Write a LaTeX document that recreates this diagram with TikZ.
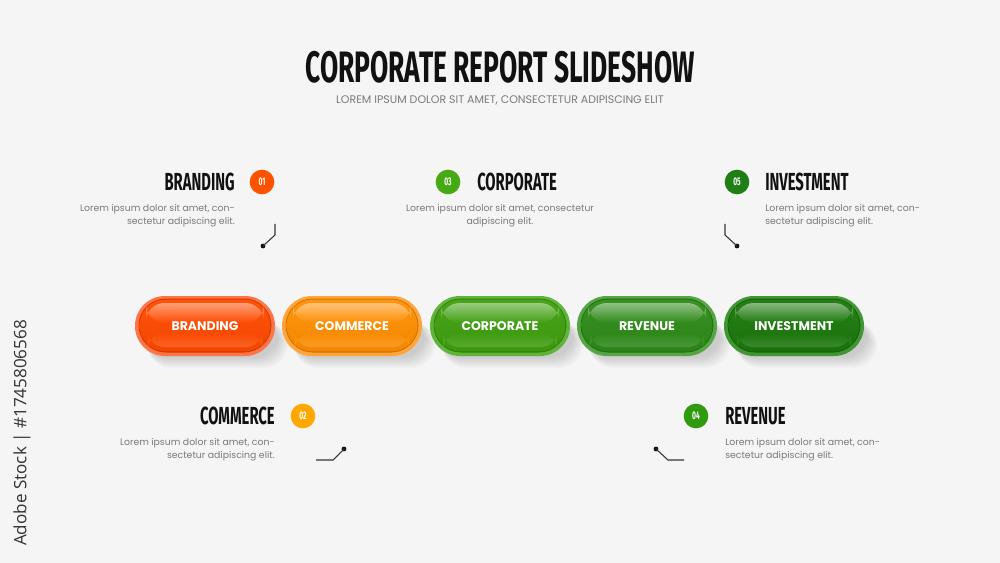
\documentclass[tikz,border=0pt]{standalone}
\usepackage{fontspec}
\setmainfont{Poppins}
\newfontfamily\bebas[FakeStretch=0.6]{Fira Sans}
\newfontfamily\adobefont{Open Sans}
\usetikzlibrary{calc}
\definecolor{bg}{HTML}{F5F5F5}
\definecolor{txtgray}{HTML}{7A7A7A}
\definecolor{ink}{HTML}{111111}
\definecolor{cA}{HTML}{FF4A00}
\definecolor{rA}{HTML}{FF7446}
\definecolor{cB}{HTML}{FF8E00}
\definecolor{rB}{HTML}{FFA43A}
\definecolor{cC}{HTML}{3F9F0F}
\definecolor{rC}{HTML}{5FB43A}
\definecolor{cD}{HTML}{2E8A18}
\definecolor{rD}{HTML}{55A545}
\definecolor{cE}{HTML}{1B780B}
\definecolor{rE}{HTML}{3F9632}
\definecolor{n1}{HTML}{FF5200}
\definecolor{n2}{HTML}{FFA800}
\definecolor{n3}{HTML}{45AA12}
\definecolor{n4}{HTML}{2F9A10}
\definecolor{n5}{HTML}{1F7E14}
\tikzset{
  pilltext/.style={text=white,font=\bfseries\fontsize{9.4}{10}\selectfont,inner sep=0pt},
  heading/.style={text=ink,font=\bebas\bfseries\fontsize{18.5}{20}\selectfont,inner sep=0pt},
  body/.style={text=txtgray,font=\fontsize{7}{9.8}\selectfont,inner sep=0pt},
  numdot/.style={circle,minimum size=18.5pt,inner sep=0pt,text=white,font=\bebas\bfseries\fontsize{8.3}{9}\selectfont},
  conn/.style={draw=ink!85,line width=0.8pt},
  enddot/.style={circle,fill=ink,minimum size=3.6pt,inner sep=0pt},
}
\newcommand\mypill[5]{%
\begin{scope}[shift={(#1,326)}]
  \foreach \k in {1,...,7}{
    \fill[black,opacity=0.022,rounded corners=18pt] (-62+\k*0.6,-8+\k*0.5) rectangle (72+\k*1.6,30+\k*1.7);
  }
  \fill[#4,rounded corners=22.4pt] (-70,-30) rectangle (70,30);
  \fill[#3!80!black,rounded corners=20.5pt] (-66.5,-27.5) rectangle (66.5,26.5);
  \shade[top color=#3!95!white,bottom color=#3!95!black,rounded corners=19.5pt] (-65.5,-26.5) rectangle (65.5,25.3);
  \shade[top color=#3!45!white,bottom color=#3,opacity=0.85,rounded corners=14pt] (-59,-23) rectangle (59,-3);
  \shade[top color=#3,bottom color=#3!72!white,opacity=0.5,rounded corners=12pt] (-57,7) rectangle (57,21);
  \node[pilltext] (#2) at (0,0) {#5};
\end{scope}}
\begin{document}
\begin{tikzpicture}[x=0.75pt,y=-0.75pt]
\useasboundingbox (0,0) rectangle (1000,563);
\fill[bg] (0,0) rectangle (1000,563);

% title
\node[text=ink,font=\bebas\bfseries\fontsize{33}{34}\selectfont,inner sep=0pt] (title) at (500,67) {CORPORATE REPORT SLIDESHOW};
\node[text=txtgray,font=\fontsize{8.25}{9}\selectfont,inner sep=0pt] (sub) at (500,100) {LOREM IPSUM DOLOR SIT AMET, CONSECTETUR ADIPISCING ELIT};

% watermark side text
\node[rotate=90,text=black!80,font=\adobefont\fontsize{12.8}{14}\selectfont,inner sep=0pt] (wm) at (22,433) {Adobe Stock | \#1745806568};

% pills
\mypill{205}{p1}{cA}{rA}{BRANDING}
\mypill{352}{p2}{cB}{rB}{COMMERCE}
\mypill{500}{p3}{cC}{rC}{CORPORATE}
\mypill{647}{p4}{cD}{rD}{REVENUE}
\mypill{794}{p5}{cE}{rE}{INVESTMENT}

% 01 branding
\node[heading,anchor=east] (h1) at (235,182) {BRANDING};
\node[numdot,fill=n1] (k1) at (262,182) {01};
\node[body,anchor=north east,align=right] (t1) at (235,204) {Lorem ipsum dolor sit amet, con-\\sectetur adipiscing elit.};
\coordinate (c1a) at (275,224);
\coordinate (c1b) at (275,235);
\node[enddot] (d1) at (263,246) {};
\draw[conn] (c1a) -- (c1b) -- (d1.center);

% 03 corporate
\node[heading,anchor=west] (h3) at (477,182) {CORPORATE};
\node[numdot,fill=n3] (k3) at (448,182) {03};
\node[body,anchor=north,align=center] (t3) at (500,204) {Lorem ipsum dolor sit amet, consectetur\\adipiscing elit.};

% 05 investment
\node[heading,anchor=west] (h5) at (765,182) {INVESTMENT};
\node[numdot,fill=n5] (k5) at (737,182) {05};
\node[body,anchor=north west,align=left] (t5) at (765,204) {Lorem ipsum dolor sit amet, con-\\sectetur adipiscing elit.};
\coordinate (c5a) at (725,224);
\coordinate (c5b) at (725,235);
\node[enddot] (d5) at (737,246) {};
\draw[conn] (c5a) -- (c5b) -- (d5.center);

% 02 commerce
\node[heading,anchor=east] (h2) at (275,416) {COMMERCE};
\node[numdot,fill=n2] (k2) at (303,416) {02};
\node[body,anchor=north east,align=right] (t2) at (275,438) {Lorem ipsum dolor sit amet, con-\\sectetur adipiscing elit.};
\coordinate (c2a) at (316,460);
\coordinate (c2b) at (333,460);
\node[enddot] (d2) at (344,449) {};
\draw[conn] (c2a) -- (c2b) -- (d2.center);

% 04 revenue
\node[heading,anchor=west] (h4) at (725,416) {REVENUE};
\node[numdot,fill=n4] (k4) at (696,416) {04};
\node[body,anchor=north west,align=left] (t4) at (725,438) {Lorem ipsum dolor sit amet, con-\\sectetur adipiscing elit.};
\coordinate (c4a) at (684,460);
\coordinate (c4b) at (668,460);
\node[enddot] (d4) at (656,449) {};
\draw[conn] (c4a) -- (c4b) -- (d4.center);
\end{tikzpicture}
\end{document}
